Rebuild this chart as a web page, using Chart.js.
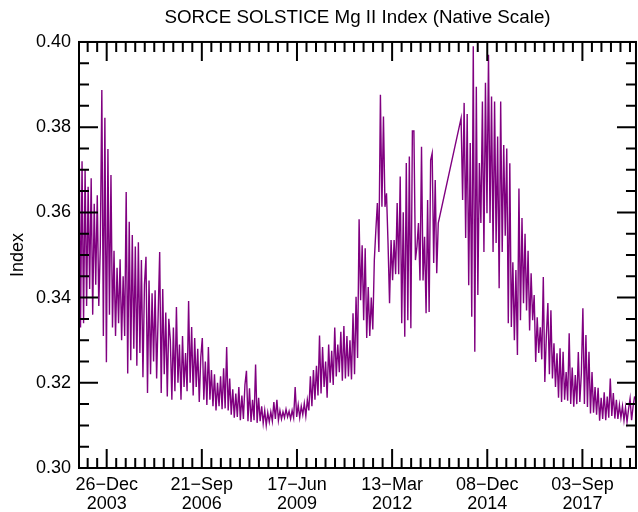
<!DOCTYPE html>
<html>
<head>
<meta charset="utf-8">
<title>SORCE SOLSTICE Mg II Index</title>
<script src="https://cdn.jsdelivr.net/npm/chart.js@4.4.1/dist/chart.umd.min.js"></script>
<style>
  html, body { margin: 0; padding: 0; background: #fff; }
  canvas { display: block; }
</style>
</head>
<body>
<canvas id="chart" width="638" height="512"></canvas>
<script>
// Time axis: days counted from 2003-01-01
const axisFirstDay = 68;
const axisLastDay = 5922;
const firstSampleDay = 68;
const sampleStepDays = 16;

// Major date ticks every 1000 days, with two-line labels
const xTickDays = [359, 1359, 2359, 3359, 4359, 5359];
const xTickLabels = [
  ['26\u2212Dec', '2003'],
  ['21\u2212Sep', '2006'],
  ['17\u2212Jun', '2009'],
  ['13\u2212Mar', '2012'],
  ['08\u2212Dec', '2014'],
  ['03\u2212Sep', '2017']
];
const yTickLabels = ['0.30', '0.32', '0.34', '0.36', '0.38', '0.40'];

// Mg II core-to-wing index, one sample every 16 days (null = no data)
const mgIndex = [
  0.382, 0.333, 0.372, 0.334, 0.370, 0.338, 0.366, 0.342, 0.368, 0.336,
  0.362, 0.343, 0.364, 0.338, 0.352, 0.3887, 0.331, 0.3822, 0.3248, 0.3749,
  0.336, 0.3688, 0.333, 0.351, 0.331, 0.347, 0.334, 0.349, 0.330, 0.345,
  0.331, 0.3648, 0.3222, 0.3578, 0.3253, 0.3547, 0.328, 0.352, 0.324, 0.353,
  0.327, 0.3488, 0.3213, 0.343, 0.3496, 0.3176, 0.344, 0.322, 0.341, 0.325,
  0.3417, 0.321, 0.336, 0.3507, 0.3176, 0.342, 0.322, 0.3365, 0.3168, 0.335,
  0.330, 0.316, 0.333, 0.318, 0.3378, 0.320, 0.329, 0.316, 0.331, 0.319,
  0.327, 0.318, 0.3392, 0.320, 0.3331, 0.317, 0.3305, 0.319, 0.328, 0.3155,
  0.326, 0.3305, 0.316, 0.325, 0.3148, 0.3284, 0.316, 0.323, 0.3145, 0.322,
  0.3135, 0.320, 0.3145, 0.3215, 0.3138, 0.3234, 0.314, 0.3284, 0.3135, 0.321,
  0.3125, 0.3185, 0.3118, 0.3175, 0.312, 0.319, 0.3112, 0.317, 0.3115, 0.3195,
  0.3228, 0.311, 0.3187, 0.3108, 0.316, 0.3112, 0.3243, 0.3106, 0.3165, 0.311,
  0.3145, 0.3105, 0.3135, 0.310, 0.313, 0.3108, 0.3132, 0.311, 0.3155, 0.3115,
  0.316, 0.3112, 0.3135, 0.3115, 0.3132, 0.3118, 0.3138, 0.312, 0.3133, 0.3115,
  0.3135, 0.3118, 0.319, 0.312, 0.3148, 0.3118, 0.3145, 0.3125, 0.3152, 0.3122,
  0.316, 0.3135, 0.3215, 0.3145, 0.323, 0.316, 0.324, 0.317, 0.3311, 0.3175,
  0.3284, 0.319, 0.325, 0.3165, 0.329, 0.320, 0.3275, 0.3195, 0.333, 0.3215,
  0.329, 0.3225, 0.332, 0.3205, 0.3333, 0.321, 0.331, 0.3215, 0.330, 0.3208,
  0.3363, 0.322, 0.3402, 0.3258, 0.3584, 0.3394, 0.3523, 0.3347, 0.3516, 0.3305,
  0.3425, 0.331, 0.340, 0.3325, 0.3488, 0.3558, 0.3622, 0.3507, 0.3876, 0.3613,
  0.3825, 0.3613, 0.3645, 0.3528, 0.3387, 0.3535, 0.3441, 0.3535, 0.3455, 0.3622,
  0.3455, 0.3684, 0.334, 0.360, 0.3308, 0.3716, 0.3347, 0.3731, 0.3328, 0.3791,
  0.3791, 0.3488, 0.352, 0.3575, 0.344, 0.3754, 0.344, 0.3543, 0.3363, 0.3629,
  0.3366, 0.3723, 0.3739, 0.3481, 0.3676, 0.3457, 0.3575, null, null, null,
  null, null, null, null, null, null, null, null, null, null,
  null, 0.3821, 0.3629, 0.3857, 0.354, 0.3831, 0.3429, 0.3763, 0.3355, 0.399,
  0.3273, 0.3895, 0.3406, 0.3716, 0.3575, 0.386, 0.3507, 0.3904, 0.3598, 0.397,
  0.3575, 0.3872, 0.3507, 0.386, 0.3528, 0.3778, 0.3422, 0.386, 0.3507, 0.3758,
  0.3545, 0.375, 0.334, 0.3715, 0.3331, 0.3483, 0.330, 0.3465, 0.3265, 0.3656,
  0.3347, 0.3587, 0.3387, 0.355, 0.337, 0.351, 0.3323, 0.3457, 0.3347, 0.3406,
  0.3249, 0.3354, 0.327, 0.333, 0.3255, 0.3448, 0.3202, 0.331, 0.3387, 0.322,
  0.337, 0.321, 0.3293, 0.319, 0.3269, 0.3165, 0.3281, 0.3155, 0.3273, 0.316,
  0.3225, 0.3158, 0.3316, 0.315, 0.3236, 0.3144, 0.3218, 0.315, 0.3272, 0.3155,
  0.3222, 0.3375, 0.315, 0.3312, 0.3143, 0.3273, 0.3128, 0.3225, 0.313, 0.319,
  0.3125, 0.3188, 0.3111, 0.3165, 0.3115, 0.3178, 0.3112, 0.3168, 0.3118, 0.321,
  0.3122, 0.3176, 0.3116, 0.316, 0.3115, 0.3148, 0.3118, 0.3145, 0.3112, 0.3142,
  0.3108, 0.3138, 0.3163, 0.3112, 0.3145, 0.3168
];

const points = mgIndex.map((v, i) => ({ x: firstSampleDay + i * sampleStepDays, y: v }));

const FONT = "'Liberation Sans', Arial, Helvetica, sans-serif";

// Box frame with inward-pointing major/minor ticks on all four sides
const boxTicks = {
  id: 'boxTicks',
  afterDatasetsDraw(chart) {
    const { ctx, chartArea: a, scales: { x, y } } = chart;
    ctx.save();
    ctx.strokeStyle = '#000';
    ctx.lineWidth = 2;
    ctx.beginPath();
    x.ticks.forEach(t => {
      const px = x.getPixelForValue(t.value);
      const len = t.major ? 19 : 10;
      ctx.moveTo(px, a.bottom); ctx.lineTo(px, a.bottom - len);
      ctx.moveTo(px, a.top); ctx.lineTo(px, a.top + len);
    });
    y.ticks.forEach(t => {
      const py = y.getPixelForValue(t.value);
      const len = t.major ? 19 : 10;
      ctx.moveTo(a.left, py); ctx.lineTo(a.left + len, py);
      ctx.moveTo(a.right, py); ctx.lineTo(a.right - len, py);
    });
    ctx.stroke();
    ctx.strokeRect(a.left, a.top, a.right - a.left, a.bottom - a.top);
    ctx.restore();
  }
};

new Chart(document.getElementById('chart'), {
  type: 'line',
  data: {
    datasets: [{
      data: points,
      borderColor: '#800080',
      borderWidth: 1.4,
      pointRadius: 0,
      tension: 0,
      spanGaps: true,
      fill: false
    }]
  },
  options: {
    responsive: false,
    animation: false,
    devicePixelRatio: 1,
    layout: { padding: { left: 0, right: 1, top: 0, bottom: 0 } },
    plugins: {
      legend: { display: false },
      tooltip: { enabled: false },
      title: {
        display: true,
        text: 'SORCE SOLSTICE Mg II Index (Native Scale)',
        color: '#000',
        fullSize: false,
        font: { family: FONT, size: 18.8, weight: 'normal', lineHeight: 1.2 },
        padding: { top: 7, bottom: 12.4 }
      }
    },
    scales: {
      x: {
        type: 'linear',
        min: axisFirstDay,
        max: axisLastDay,
        grid: { display: false, drawTicks: false },
        border: { display: false },
        afterBuildTicks(scale) {
          const ticks = [];
          for (let d = xTickDays[0] - 300; d <= axisLastDay; d += 100) {
            if (d >= axisFirstDay) ticks.push({ value: d, major: xTickDays.includes(d) });
          }
          scale.ticks = ticks;
        },
        afterFit(scale) { scale.height = 44; },
        ticks: {
          autoSkip: false,
          maxRotation: 0,
          minRotation: 0,
          padding: 8,
          color: '#000',
          font: { family: FONT, size: 18, lineHeight: 1.05 },
          callback(value) {
            const k = xTickDays.indexOf(value);
            return k >= 0 ? xTickLabels[k] : '';
          }
        }
      },
      y: {
        type: 'linear',
        min: 0.30,
        max: 0.40,
        grid: { display: false, drawTicks: false },
        border: { display: false },
        afterBuildTicks(scale) {
          const ticks = [];
          for (let k = 0; k <= 20; k++) {
            ticks.push({ value: Math.round((0.30 + k * 0.005) * 1000) / 1000, major: k % 4 === 0 });
          }
          scale.ticks = ticks;
        },
        afterFit(scale) { scale.width = 79; },
        title: {
          display: true,
          text: 'Index',
          color: '#000',
          font: { family: FONT, size: 18, lineHeight: 1.2 },
          padding: { top: 7, bottom: 0 }
        },
        ticks: {
          autoSkip: false,
          padding: 8,
          color: '#000',
          font: { family: FONT, size: 18 },
          callback(value, index) {
            return index % 4 === 0 ? yTickLabels[index / 4] : '';
          }
        }
      }
    }
  },
  plugins: [boxTicks]
});
</script>
</body>
</html>
